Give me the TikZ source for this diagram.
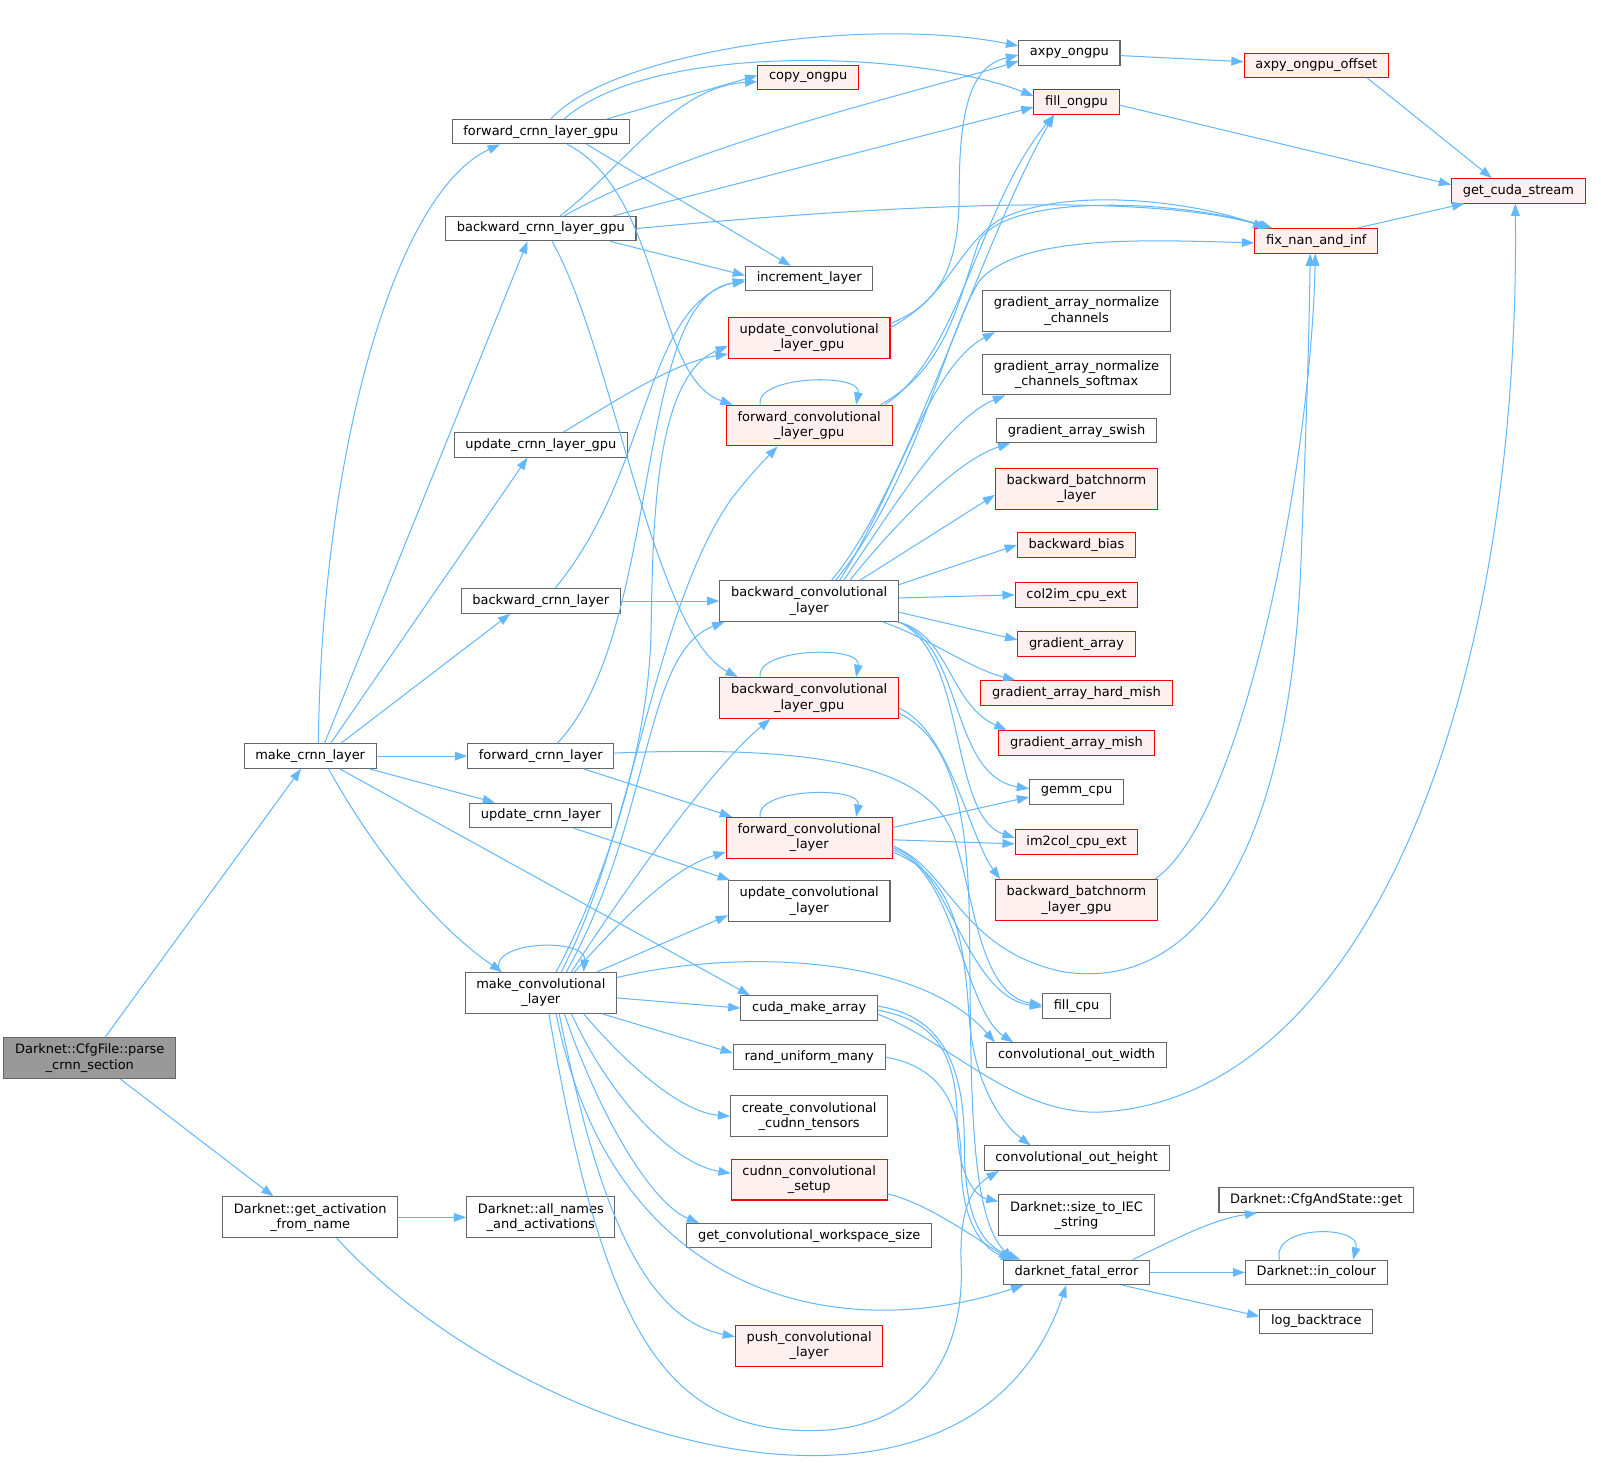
\documentclass[tikz,border=0pt]{standalone}
\usepackage{fontspec}
\newfontfamily\dvs{DejaVu Sans}
\usetikzlibrary{arrows.meta}
\definecolor{edgeblue}{HTML}{63B8FF}
\definecolor{bordergray}{HTML}{666666}
\definecolor{redfill}{HTML}{FFF0F0}
\definecolor{rootgray}{HTML}{999999}
\definecolor{redline}{HTML}{FF0000}
\tikzset{
  nb/.style={draw=bordergray, fill=white, line width=1pt, font={\dvs\fontsize{12.7}{15}\selectfont},
    inner xsep=11pt, inner ysep=2pt, minimum height=24pt, align=center},
  nr/.style={nb, draw=redline, fill=redfill},
  two/.style={minimum height=40pt},
  root/.style={nb, fill=rootgray},
  e/.style={draw=edgeblue, line width=1pt, -{Triangle[length=12pt,width=8.5pt]}},
}
\begin{document}
\begin{tikzpicture}[x=1pt,y=-1pt]
\useasboundingbox[fill=white] (0,0) rectangle (1569,1439);
% nodes
\node[root,two] (parse) at (88,1037) {Darknet::CfgFile::parse\\\_crnn\_section};
\node[nb] (mkcrnn) at (304,741) {make\_crnn\_layer};
\node[nb,two] (getact) at (304,1193) {Darknet::get\_activation\\\_from\_name};
\node[nb] (fwdgpu) at (530,129) {forward\_crnn\_layer\_gpu};
\node[nb] (bwdgpu) at (530,224) {backward\_crnn\_layer\_gpu};
\node[nb] (updgpu) at (530,436) {update\_crnn\_layer\_gpu};
\node[nb] (bwdcrnn) at (530,589) {backward\_crnn\_layer};
\node[nb] (fwdcrnn) at (530,741) {forward\_crnn\_layer};
\node[nb] (updcrnn) at (530,799) {update\_crnn\_layer};
\node[nb,two] (mkconv) at (530,973) {make\_convolutional\\\_layer};
\node[nb,two] (allnames) at (530,1193) {Darknet::all\_names\\\_and\_activations};
\node[nr] (copy) at (792,76) {copy\_ongpu};
\node[nb] (incr) at (793,273) {increment\_layer};
\node[nr,two] (updconvgpu) at (793,331) {update\_convolutional\\\_layer\_gpu};
\node[nr,two] (fwdconvgpu) at (793,417) {forward\_convolutional\\\_layer\_gpu};
\node[nb,two] (bwdconv) at (793,589) {backward\_convolutional\\\_layer};
\node[nr,two] (bwdconvgpu) at (793,684) {backward\_convolutional\\\_layer\_gpu};
\node[nr,two] (fwdconv) at (793,821) {forward\_convolutional\\\_layer};
\node[nb,two] (updconv) at (793,883) {update\_convolutional\\\_layer};
\node[nb] (cuda) at (793,988) {cuda\_make\_array};
\node[nb] (rand) at (793,1036) {rand\_uniform\_many};
\node[nb,two] (create) at (793,1094) {create\_convolutional\\\_cudnn\_tensors};
\node[nr,two] (cudnn) at (793,1156) {cudnn\_convolutional\\\_setup};
\node[nb] (getws) at (793,1211) {get\_convolutional\_workspace\_size};
\node[nr,two] (push) at (793,1319) {push\_convolutional\\\_layer};
\node[nb] (axpy) at (1048,52) {axpy\_ongpu};
\node[nr] (fillgpu) at (1055,100) {fill\_ongpu};
\node[nb,two] (gan) at (1055,305) {gradient\_array\_normalize\\\_channels};
\node[nb,two] (gans) at (1055,367) {gradient\_array\_normalize\\\_channels\_softmax};
\node[nb] (gas) at (1055,422) {gradient\_array\_swish};
\node[nr,two] (bbn) at (1055,479) {backward\_batchnorm\\\_layer};
\node[nr] (bbias) at (1055,534) {backward\_bias};
\node[nr] (col2im) at (1055,583) {col2im\_cpu\_ext};
\node[nr] (ga) at (1055,631) {gradient\_array};
\node[nr] (gahm) at (1055,679) {gradient\_array\_hard\_mish};
\node[nr] (gam) at (1055,728) {gradient\_array\_mish};
\node[nb] (gemm) at (1055,776) {gemm\_cpu};
\node[nr] (im2col) at (1055,825) {im2col\_cpu\_ext};
\node[nr,two] (bbngpu) at (1055,882) {backward\_batchnorm\\\_layer\_gpu};
\node[nb] (fillcpu) at (1055,986) {fill\_cpu};
\node[nb] (cow) at (1055,1034) {convolutional\_out\_width};
\node[nb] (coh) at (1055,1135) {convolutional\_out\_height};
\node[nb,two] (iec) at (1055,1191) {Darknet::size\_to\_IEC\\\_string};
\node[nb] (fatal) at (1055,1247) {darknet\_fatal\_error};
\node[nr] (axpyoff) at (1290,64) {axpy\_ongpu\_offset};
\node[nr] (fixnan) at (1290,236) {fix\_nan\_and\_inf};
\node[nr] (cudastream) at (1488,187) {get\_cuda\_stream};
\node[nb] (cfgget) at (1290,1176) {Darknet::CfgAndState::get};
\node[nb] (incolour) at (1290,1247) {Darknet::in\_colour};
\node[nb] (logbt) at (1290,1295) {log\_backtrace};
% edges: parse / getact
\draw[e] ([xshift=15pt]parse.north) -- ([xshift=-9pt]mkcrnn.south);
\draw[e] ([xshift=30pt]parse.south) -- ([xshift=-36pt]getact.north);
\draw[e] (getact) -- (allnames);
\draw[e] ([xshift=26pt]getact.south) .. controls (520,1420) and (950,1540) .. ([xshift=-10pt]fatal.south);
% make_crnn_layer
\draw[e] ([xshift=8pt]mkcrnn.north) .. controls (315,450) and (385,190) .. ([xshift=-40pt]fwdgpu.south);
\draw[e] ([xshift=14pt]mkcrnn.north) -- ([xshift=-13pt]bwdgpu.south);
\draw[e] ([xshift=20pt]mkcrnn.north) -- ([xshift=-13pt]updgpu.south);
\draw[e] ([xshift=30pt]mkcrnn.north) -- ([xshift=-30pt]bwdcrnn.south);
\draw[e] (mkcrnn) -- (fwdcrnn);
\draw[e] ([xshift=58pt]mkcrnn.south) -- ([xshift=-45pt]updcrnn.north);
\draw[e] ([xshift=18pt]mkcrnn.south) .. controls (370,840) and (430,910) .. ([xshift=-38pt]mkconv.north);
\draw[e] ([xshift=29pt]mkcrnn.south) -- ([xshift=-58pt]cuda.north);
% forward_crnn_layer_gpu
\draw[e] ([xshift=10pt]fwdgpu.north) .. controls (600,50) and (850,15) .. ([yshift=7pt]axpy.west);
\draw[e] ([xshift=23pt]fwdgpu.north) .. controls (640,40) and (900,50) .. ([yshift=6pt]fillgpu.west);
\draw[e] ([xshift=65pt]fwdgpu.north) -- ([yshift=2pt]copy.west);
\draw[e] ([xshift=45pt]fwdgpu.south) -- ([xshift=-18pt]incr.north);
\draw[e] ([xshift=26pt]fwdgpu.south) .. controls (650,190) and (640,370) .. ([xshift=-75pt]fwdconvgpu.north);
% backward_crnn_layer_gpu
\draw[e] ([xshift=19pt]bwdgpu.north) .. controls (610,165) and (660,85) .. ([yshift=-4pt]copy.west);
\draw[e] ([xshift=23pt]bwdgpu.north) .. controls (680,140) and (900,90) .. ([yshift=-8pt]axpy.west);
\draw[e] ([xshift=71pt]bwdgpu.north) -- ([yshift=-5pt]fillgpu.west);
\draw[e] (bwdgpu.east) .. controls (900,198) and (1130,190) .. ([xshift=-45pt]fixnan.north);
\draw[e] ([xshift=68pt]bwdgpu.south) -- ([yshift=3pt]incr.west);
\draw[e] ([xshift=11pt]bwdgpu.south) .. controls (600,340) and (640,620) .. ([xshift=-70pt]bwdconvgpu.north);
% update_crnn_layer_gpu
\draw[e] ([xshift=22pt]updgpu.north) .. controls (600,395) and (660,355) .. ([yshift=-16pt]updconvgpu.west);
% backward_crnn_layer / forward_crnn_layer / update_crnn_layer
\draw[e] ([xshift=14pt]bwdcrnn.north) .. controls (640,460) and (630,300) .. ([yshift=-1pt]incr.west);
\draw[e] (bwdcrnn) -- (bwdconv);
\draw[e] ([xshift=16pt]fwdcrnn.north) .. controls (650,620) and (620,290) .. ([yshift=-3pt]incr.west);
\draw[e] ([xshift=42pt]fwdcrnn.south) -- ([xshift=6pt]fwdconv.north west);
\draw[e] ([yshift=3pt]fwdcrnn.east) .. controls (800,730) and (910,750) .. (935,820) .. controls (955,880) and (960,975) .. ([yshift=1pt]fillcpu.west);
\draw[e] ([xshift=32pt]updcrnn.south) -- ([xshift=2pt]updconv.north west);
% make_convolutional_layer
\draw[e] ([xshift=-40pt]mkconv.north) .. controls (475,922) and (575,918) .. ([xshift=42pt]mkconv.north);
\draw[e] ([xshift=15pt]mkconv.north) .. controls (600,850) and (636,720) .. (638,620) .. controls (640,520) and (640,370) .. ([yshift=-8pt]updconvgpu.west);
\draw[e] ([xshift=20pt]mkconv.north) .. controls (620,820) and (640,600) .. (716,490) .. controls (735,465) and (750,450) .. ([xshift=-31pt]fwdconvgpu.south);
\draw[e] ([xshift=25pt]mkconv.north) .. controls (640,800) and (630,640) .. ([xshift=5pt]bwdconv.south west);
\draw[e] ([xshift=30pt]mkconv.north) .. controls (620,860) and (700,750) .. ([xshift=-38pt]bwdconvgpu.south);
\draw[e] ([xshift=33pt]mkconv.north) .. controls (610,900) and (660,850) .. ([yshift=-14pt]fwdconv.west);
\draw[e] ([xshift=55pt]mkconv.north) -- ([yshift=-14pt]updconv.west);
\draw[e] ([yshift=15pt]mkconv.east) .. controls (720,930) and (900,935) .. ([xshift=-80pt]cow.north);
\draw[e] ([yshift=-5pt]mkconv.east) -- (cuda.west);
\draw[e] ([xshift=60pt]mkconv.south) -- ([yshift=4pt]rand.west);
\draw[e] ([xshift=42pt]mkconv.south) .. controls (620,1050) and (670,1090) .. (create.west);
\draw[e] ([xshift=30pt]mkconv.south) .. controls (600,1080) and (660,1140) .. ([yshift=6pt]cudnn.west);
\draw[e] ([xshift=23pt]mkconv.south) .. controls (590,1100) and (640,1180) .. ([xshift=-108pt]getws.north);
\draw[e] ([xshift=18pt]mkconv.south) .. controls (580,1150) and (620,1290) .. ([yshift=9pt]push.west);
\draw[e] ([xshift=15pt]mkconv.south) .. controls (600,1270) and (820,1320) .. ([xshift=20pt]fatal.south west);
\draw[e] ([xshift=8pt]mkconv.south) .. controls (590,1300) and (650,1400) .. (790,1402) .. controls (900,1404) and (945,1330) .. (942,1240) .. controls (940,1190) and (950,1165) .. ([xshift=15pt]coh.south west);
% cuda_make_array, rand_uniform_many, cudnn setup
\draw[e] ([yshift=2pt]cuda.east) .. controls (920,995) and (945,1040) .. (945,1120) .. controls (945,1190) and (960,1220) .. ([xshift=-55pt]fatal.north);
\draw[e] ([yshift=-2pt]cuda.east) .. controls (915,1000) and (938,1030) .. (938,1100) .. controls (938,1150) and (955,1172) .. ([yshift=-7pt]iec.north west);
\draw[e] ([yshift=-6pt]cuda.east) .. controls (930,1020) and (990,1090) .. (1075,1090) .. controls (1330,1080) and (1490,700) .. ([xshift=-3pt]cudastream.south);
\draw[e] (rand.east) .. controls (920,1045) and (942,1080) .. (942,1140) .. controls (942,1200) and (965,1225) .. ([xshift=-62pt]fatal.north);
\draw[e] ([yshift=-14pt]cudnn.east) .. controls (910,1180) and (950,1210) .. ([xshift=8pt]fatal.north west);
% darknet_fatal_error
\draw[e] ([xshift=55pt]fatal.north) .. controls (1160,1210) and (1190,1195) .. ([xshift=-58pt]cfgget.south);
\draw[e] (fatal) -- (incolour);
\draw[e] ([xshift=45pt]fatal.south) -- ([yshift=5pt]logbt.west);
\draw[e] ([xshift=-36pt]incolour.north) .. controls (1245,1200) and (1335,1200) .. ([xshift=36pt]incolour.north);
% gpu helpers
\draw[e] (axpy) -- (axpyoff);
\draw[e] ([xshift=50pt]axpyoff.south) -- ([xshift=-26pt]cudastream.north);
\draw[e] ([yshift=-3pt]fillgpu.east) -- ([yshift=6pt]cudastream.west);
\draw[e] ([xshift=40pt]fixnan.north) -- ([xshift=-53pt]cudastream.south);
% update_convolutional_layer_gpu
\draw[e] ([yshift=14pt]updconvgpu.east) .. controls (915,300) and (940,270) .. (940,190) .. controls (940,110) and (950,65) .. ([yshift=-2pt]axpy.west);
\draw[e] ([yshift=10pt]updconvgpu.east) .. controls (930,290) and (940,240) .. (980,215) .. controls (1050,180) and (1180,200) .. ([xshift=-50pt]fixnan.north);
% forward_convolutional_layer_gpu
\draw[e] ([xshift=-48pt]fwdconvgpu.north) .. controls (740,368) and (845,365) .. ([xshift=46pt]fwdconvgpu.north);
\draw[e] ([xshift=70pt]fwdconvgpu.north) .. controls (930,360) and (940,290) .. (960,235) .. controls (990,190) and (1150,195) .. ([xshift=-43pt]fixnan.north);
\draw[e] ([xshift=74pt]fwdconvgpu.north) .. controls (940,350) and (960,200) .. ([xshift=-22pt]fillgpu.south);
% backward_convolutional_layer
\draw[e] ([xshift=22pt]bwdconv.north) .. controls (890,480) and (960,240) .. ([xshift=-22pt]fillgpu.south);
\draw[e] ([xshift=26pt]bwdconv.north) .. controls (900,470) and (925,330) .. (960,275) .. controls (1000,230) and (1120,235) .. ([yshift=-2pt]fixnan.west);
\draw[e] ([xshift=30pt]bwdconv.north) .. controls (880,480) and (910,360) .. ([xshift=-80pt]gan.south);
\draw[e] ([xshift=34pt]bwdconv.north) .. controls (880,490) and (930,410) .. ([xshift=-70pt]gans.south);
\draw[e] ([xshift=40pt]bwdconv.north) .. controls (880,510) and (940,450) .. ([xshift=-65pt]gas.south);
\draw[e] ([xshift=50pt]bwdconv.north) -- ([yshift=-6pt]bbn.west);
\draw[e] ([yshift=16pt]bwdconv.east) -- (bbias.west);
\draw[e] ([yshift=3pt]bwdconv.east) -- (col2im.west);
\draw[e] ([yshift=-11pt]bwdconv.east) -- ([yshift=4pt]ga.west);
\draw[e] ([xshift=72pt]bwdconv.south) .. controls (910,625) and (950,655) .. ([xshift=-60pt]gahm.north);
\draw[e] ([xshift=-2pt]bwdconv.south east) .. controls (930,620) and (930,690) .. ([xshift=8pt]gam.north west);
\draw[e] ([xshift=-1pt]bwdconv.south east) .. controls (945,630) and (930,760) .. ([yshift=3pt]gemm.west);
\draw[e] (bwdconv.south east) .. controls (948,640) and (930,800) .. ([yshift=4pt]im2col.west);
% backward_convolutional_layer_gpu
\draw[e] ([xshift=-48pt]bwdconvgpu.north) .. controls (740,635) and (845,632) .. ([xshift=46pt]bwdconvgpu.north);
\draw[e] ([yshift=-10pt]bwdconvgpu.east) .. controls (930,715) and (950,820) .. ([xshift=5pt]bbngpu.north west);
\draw[e] ([yshift=-15pt]bwdconvgpu.east) .. controls (935,725) and (948,800) .. (950,900) .. controls (952,1050) and (948,1190) .. ([xshift=-62pt]fatal.north);
% forward_convolutional_layer
\draw[e] ([xshift=-48pt]fwdconv.north) .. controls (740,772) and (845,770) .. ([xshift=46pt]fwdconv.north);
\draw[e] ([yshift=10pt]fwdconv.east) -- ([yshift=-5pt]gemm.west);
\draw[e] ([yshift=-2pt]fwdconv.east) -- ([yshift=-2pt]im2col.west);
\draw[e] ([yshift=-10pt]fwdconv.east) .. controls (930,845) and (945,975) .. ([yshift=-1pt]fillcpu.west);
\draw[e] ([yshift=-12pt]fwdconv.east) .. controls (935,850) and (945,990) .. ([xshift=-62pt]cow.north);
\draw[e] ([yshift=-14pt]fwdconv.east) .. controls (940,860) and (945,930) .. (950,1000) .. controls (955,1060) and (980,1100) .. ([xshift=-45pt]coh.north);
\draw[e] ([yshift=-8pt]fwdconv.east) .. controls (930,850) and (940,930) .. (1040,952) .. controls (1180,975) and (1265,820) .. (1275,550) .. controls (1280,420) and (1283,330) .. ([xshift=-6pt]fixnan.south);
% backward_batchnorm_layer_gpu
\draw[e] ([xshift=-3pt]bbngpu.north east) .. controls (1220,800) and (1285,450) .. ([xshift=-1pt]fixnan.south);
\end{tikzpicture}
\end{document}
